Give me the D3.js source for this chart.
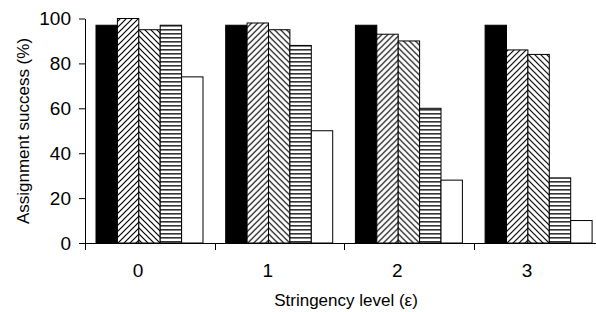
<!DOCTYPE html>
<html>
<head>
<meta charset="utf-8">
<script src="https://cdn.jsdelivr.net/npm/d3@7/dist/d3.min.js"></script>
<style>
  html, body { margin: 0; padding: 0; background: #fff; }
  svg { display: block; }
  text { font-family: "Liberation Sans", Arial, Helvetica, sans-serif; fill: #000; }
</style>
</head>
<body>
<script>
// ---- data ----
const categories = ["0", "1", "2", "3"];
const seriesKeys = ["solid", "diagonal", "backslash", "horizontal", "open"];
const solidValues      = [97, 97, 97, 97];
const diagonalValues   = [100, 98, 93, 86];
const backslashValues  = [95, 95, 90, 84];
const horizontalValues = [97, 88, 60, 29];
const openValues       = [74, 50, 28, 10];
const yTickValues = [0, 20, 40, 60, 80, 100];
const xTitle = "Stringency level (\u03b5)";
const yTitle = "Assignment success (%)";

const seriesValues = {
  solid: solidValues, diagonal: diagonalValues, backslash: backslashValues,
  horizontal: horizontalValues, open: openValues
};

// ---- layout ----
const W = 596, H = 312;
const svg = d3.select("body").append("svg").attr("width", W).attr("height", H);

const defs = svg.append("defs");
// "/" hatch
const p1 = defs.append("pattern").attr("id", "diag").attr("patternUnits", "userSpaceOnUse")
  .attr("width", 6).attr("height", 6);
p1.append("rect").attr("width", 6).attr("height", 6).attr("fill", "#fff");
p1.append("path").attr("d", "M0,6 L6,0 M-1,1 L1,-1 M5,7 L7,5")
  .attr("stroke", "#000").attr("stroke-width", 1.2);
// "\" hatch
const p2 = defs.append("pattern").attr("id", "back").attr("patternUnits", "userSpaceOnUse")
  .attr("width", 6).attr("height", 6);
p2.append("rect").attr("width", 6).attr("height", 6).attr("fill", "#fff");
p2.append("path").attr("d", "M0,0 L6,6 M-1,5 L1,7 M5,-1 L7,1")
  .attr("stroke", "#000").attr("stroke-width", 1.2);
// horizontal stripes
const p3 = defs.append("pattern").attr("id", "horiz").attr("patternUnits", "userSpaceOnUse")
  .attr("width", 8).attr("height", 4);
p3.append("rect").attr("width", 8).attr("height", 4).attr("fill", "#fff");
p3.append("rect").attr("y", 1).attr("width", 8).attr("height", 1.6).attr("fill", "#333");

const fills = {
  solid: "#000", diagonal: "url(#diag)", backslash: "url(#back)",
  horizontal: "url(#horiz)", open: "#fff"
};

const x0 = 85, bandW = 129.7;
const x = d3.scaleBand().domain(categories).range([x0, x0 + bandW * categories.length]).padding(0);
const xi = d3.scaleBand().domain(seriesKeys).range([11, 11 + 21.4 * seriesKeys.length]).padding(0);
const y = d3.scaleLinear().domain([0, 100]).range([243, 18.5]);

// bars
const groups = svg.append("g").selectAll("g").data(categories).join("g")
  .attr("transform", d => `translate(${x(d)},0)`);
groups.selectAll("rect")
  .data((c, ci) => seriesKeys.map(k => ({ key: k, value: seriesValues[k][ci] })))
  .join("rect")
  .attr("x", d => xi(d.key))
  .attr("width", xi.bandwidth())
  .attr("y", d => y(d.value))
  .attr("height", d => y(0) - y(d.value))
  .attr("fill", d => fills[d.key])
  .attr("stroke", "#000")
  .attr("stroke-width", 1);

// y axis
const yAxis = svg.append("g").attr("transform", `translate(${x0},0)`)
  .call(d3.axisLeft(y).tickValues(yTickValues).tickSize(6).tickPadding(8).tickSizeOuter(0));
yAxis.select(".domain").attr("stroke", "#000");
yAxis.selectAll(".tick line").attr("stroke", "#000");
yAxis.selectAll(".tick text").style("font-size", "19px")
  .style("font-family", "'Liberation Sans', Arial, sans-serif").attr("fill", "#000");

// x axis (ticks at group boundaries)
const xg = svg.append("g");
xg.append("line").attr("x1", x0).attr("x2", W).attr("y1", y(0) + 0.5).attr("y2", y(0) + 0.5)
  .attr("stroke", "#000").attr("stroke-width", 1);
xg.selectAll("line.tk").data(categories).join("line").attr("class", "tk")
  .attr("x1", d => Math.round(x(d)) + 0.5).attr("x2", d => Math.round(x(d)) + 0.5)
  .attr("y1", y(0)).attr("y2", y(0) + 7)
  .attr("stroke", "#000");
xg.selectAll("text").data(categories).join("text")
  .attr("x", d => x(d) + 53).attr("y", 277)
  .attr("text-anchor", "middle").style("font-size", "19px").text(d => d);

// titles
svg.append("text").attr("x", 346).attr("y", 306).attr("text-anchor", "middle")
  .style("font-size", "17px").text(xTitle);
svg.append("text").attr("transform", "translate(29,131) rotate(-90)")
  .attr("text-anchor", "middle").style("font-size", "17px").text(yTitle);
</script>
</body>
</html>
